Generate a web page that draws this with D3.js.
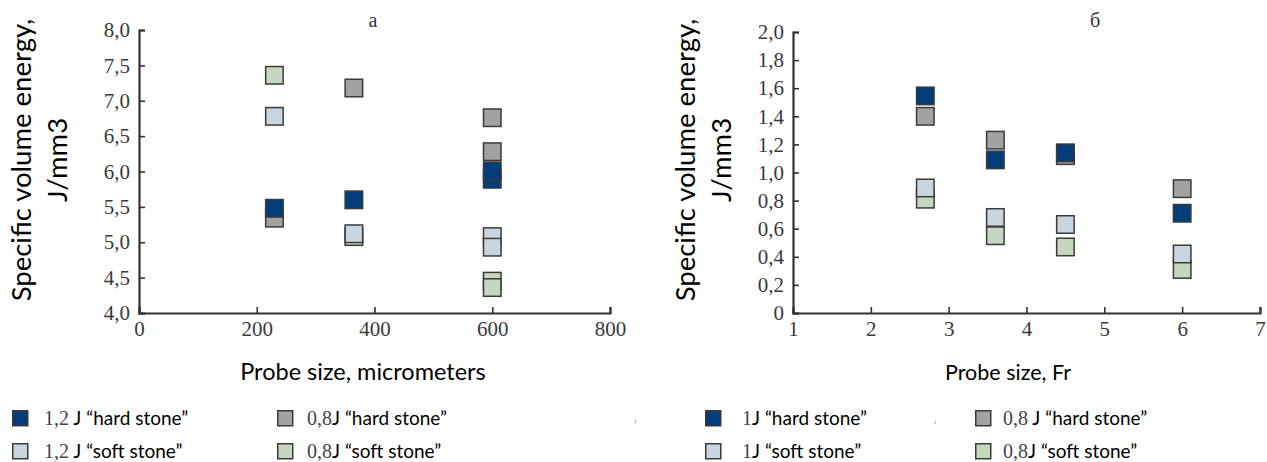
<!DOCTYPE html>
<html>
<head>
<meta charset="utf-8">
<script src="https://cdn.jsdelivr.net/npm/d3@7"></script>
<style>
  html, body { margin: 0; padding: 0; background: #fff; }
  svg { display: block; }
</style>
</head>
<body>
<svg id="chart" width="1267" height="462"></svg>
<script>
// ---------- data ----------
const seriesNames = ["hard08", "soft08", "soft12", "hard12"]; // draw order
const seriesColors = { hard12: "#033e7b", hard08: "#a2a2a3", soft12: "#c9d6e0", soft08: "#c6d7bf" };

// panel a
const xA = [230, 365, 600, 600];
const hard12A = [5.48, 5.60, 5.89, 6.01];
const hard08A = [5.34, 7.18, 6.76, 6.28];
const soft12A = [6.78, 5.12, 5.08, 4.93];
const soft08A = [7.36, 5.08, 4.45, 4.36];
const xTicksA = [0, 200, 400, 600, 800];
const yTicksA = [4.0, 4.5, 5.0, 5.5, 6.0, 6.5, 7.0, 7.5, 8.0];

// panel б
const xB = [2.7, 3.6, 4.5, 6];
const hard12B = [1.545, 1.09, 1.14, 0.71];
const hard08B = [1.40, 1.23, 1.12, 0.885];
const soft12B = [0.89, 0.68, 0.63, 0.42];
const soft08B = [0.81, 0.55, 0.47, 0.31];
const xTicksB = [1, 2, 3, 4, 5, 6, 7];
const yTicksB = [0, 0.2, 0.4, 0.6, 0.8, 1.0, 1.2, 1.4, 1.6, 1.8, 2.0];

const legendA = [
  { key: "hard12", num: "1,2", txt: " J \u201chard stone\u201d" },
  { key: "hard08", num: "0,8", txt: "J \u201chard stone\u201d" },
  { key: "soft12", num: "1,2", txt: " J \u201csoft stone\u201d" },
  { key: "soft08", num: "0,8", txt: "J \u201csoft stone\u201d" }
];
const legendB = [
  { key: "hard12", num: "1", txt: "J \u201chard stone\u201d" },
  { key: "hard08", num: "0,8", txt: " J \u201chard stone\u201d" },
  { key: "soft12", num: "1", txt: "J \u201csoft stone\u201d" },
  { key: "soft08", num: "0,8", txt: "J \u201csoft stone\u201d" }
];

// ---------- drawing ----------
const svg = d3.select("#chart");
const SERIF = "'Liberation Serif', 'DejaVu Serif', serif";
const SANS = "Lato, 'Open Sans', sans-serif";
const AX = "#333";
const fmt = d => d === 0 ? "0" : d.toFixed(1).replace(".", ",");

function panel(cfg) {
  const g = svg.append("g");
  const x = d3.scaleLinear().domain(cfg.xDomain).range(cfg.xRange);
  const y = d3.scaleLinear().domain(cfg.yDomain).range(cfg.yRange);

  // markers
  const data = { hard12: cfg.hard12, hard08: cfg.hard08, soft12: cfg.soft12, soft08: cfg.soft08 };
  const S = 19;
  seriesNames.forEach(k => {
    g.append("g").selectAll("rect")
      .data(data[k].map((v, i) => ({ x: cfg.xs[i], y: v })))
      .join("rect")
      .attr("x", d => x(d.x) - S / 2 + 0.75)
      .attr("y", d => y(d.y) - S / 2 + 0.75)
      .attr("width", S - 1.5)
      .attr("height", S - 1.5)
      .attr("fill", seriesColors[k])
      .attr("stroke", "#3a3a3a")
      .attr("stroke-width", 1.5);
  });

  // y axis
  const ya = g.append("g")
    .attr("transform", `translate(${cfg.xRange[0]},0)`)
    .call(d3.axisLeft(y).tickValues(cfg.yTicks).tickFormat(cfg.yFmt)
      .tickSizeInner(-6).tickSizeOuter(-6).tickPadding(9));
  // x axis
  const xa = g.append("g")
    .attr("transform", `translate(0,${cfg.yRange[0]})`)
    .call(d3.axisBottom(x).tickValues(cfg.xTicks).tickFormat(d => String(d))
      .tickSizeInner(-6).tickSizeOuter(-6).tickPadding(8));
  [ya, xa].forEach(a => {
    a.attr("font-family", SERIF).attr("font-size", 21);
    a.select(".domain").attr("stroke", AX).attr("stroke-width", 2.2);
    a.selectAll(".tick line").attr("stroke", AX).attr("stroke-width", 1.6);
    a.selectAll("text").style("font-family", SERIF).style("font-size", "21px").attr("fill", "#3a3a3a");
  });

  // panel title
  g.append("text").attr("x", cfg.titleX).attr("y", 27).attr("text-anchor", "middle")
    .style("font-family", SERIF).style("font-size", "20px").attr("fill", "#333").text(cfg.title);

  // y label
  const yl = g.append("text").attr("transform", `translate(${cfg.yLabelX},${cfg.yLabelY}) rotate(-90)`)
    .attr("text-anchor", "middle").style("font-family", SANS).style("font-size", "27.5px").attr("fill", "#000");
  yl.append("tspan").attr("x", 0).attr("dy", 0).text("Specific volume energy,");
  yl.append("tspan").attr("x", 0).attr("dy", 36).text("J/mm3");

  // x label
  g.append("text").attr("x", cfg.xLabelX).attr("y", 380).attr("text-anchor", "middle")
    .style("font-family", SANS).style("font-size", cfg.xLabelSize + "px").attr("fill", "#000").text(cfg.xLabel);

  // legend
  cfg.legend.forEach((L, i) => {
    const col = i % 2, row = Math.floor(i / 2);
    const lx = cfg.legX[col], ly = 410 + row * 33;
    g.append("rect").attr("x", lx + 0.75).attr("y", ly + 0.75).attr("width", 15).attr("height", 15)
      .attr("fill", seriesColors[L.key]).attr("stroke", "#3a3a3a").attr("stroke-width", 1.5);
    const t = g.append("text").attr("x", cfg.legTX[col]).attr("y", ly + 15).attr("fill", "#000");
    t.append("tspan").style("font-family", SERIF).style("font-size", "20px").attr("fill", "#444").text(L.num);
    t.append("tspan").style("font-family", SANS).style("font-size", "19px").text(L.txt);
  });
  cfg.marks.forEach(m => {
    g.append("text").attr("x", m[0]).attr("y", m[1]).style("font-size", "9px").attr("fill", "#777")
      .style("font-family", SANS).text("\u203a");
  });
}

panel({
  xDomain: [0, 800], xRange: [139, 610], yDomain: [4, 8], yRange: [313, 30],
  xs: xA, hard12: hard12A, hard08: hard08A, soft12: soft12A, soft08: soft08A,
  xTicks: xTicksA, yTicks: yTicksA, yFmt: fmt,
  title: "a", titleX: 373,
  yLabelX: 31, yLabelY: 160, xLabel: "Probe size, micrometers", xLabelX: 363, xLabelSize: 23.5,
  legend: legendA, legX: [12, 277], legTX: [44, 307], marks: [[634, 424]]
});
panel({
  xDomain: [1, 7], xRange: [793, 1260], yDomain: [0, 2], yRange: [313, 32],
  xs: xB, hard12: hard12B, hard08: hard08B, soft12: soft12B, soft08: soft08B,
  xTicks: xTicksB, yTicks: yTicksB, yFmt: fmt,
  title: "\u0431", titleX: 1095,
  yLabelX: 695, yLabelY: 160, xLabel: "Probe size, Fr", xLabelX: 1008, xLabelSize: 21.5,
  legend: legendB, legX: [705, 975], legTX: [742, 1003], marks: [[934, 425]]
});
</script>
</body>
</html>
